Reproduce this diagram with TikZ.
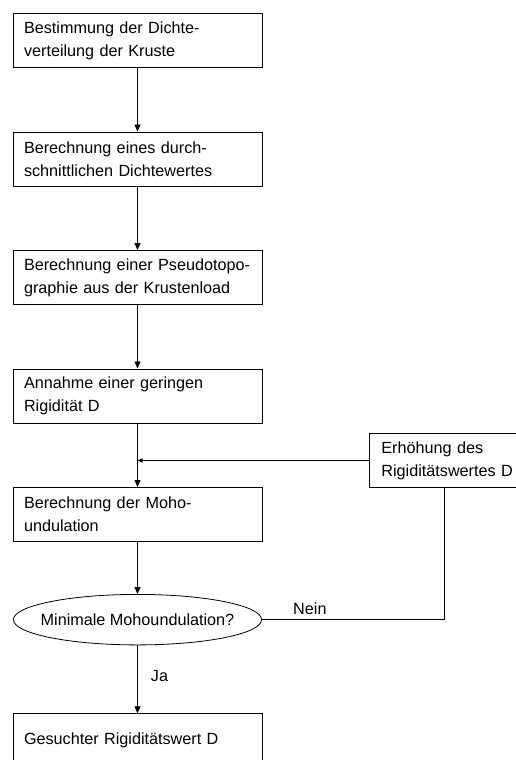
\documentclass[tikz,border=0pt]{standalone}
\usepackage{fontspec}
\setmainfont{Liberation Sans}
\usepackage{tikz}
\usetikzlibrary{arrows.meta, positioning, shapes.geometric, calc}

\begin{document}
\begin{tikzpicture}[
    x=1pt, y=-1pt,
    node distance=63.5pt,
    stepbox/.style={draw, line width=0.8pt, minimum height=54.2pt, text width=227pt, inner xsep=11pt, align=left, font=\fontsize{16.2}{23}\selectfont},
    query/.style={draw, line width=0.8pt, ellipse, inner sep=0pt, minimum width=248.2pt, minimum height=50.5pt, font=\fontsize{16.2}{23}\selectfont},
    lbl/.style={inner sep=0pt, font=\fontsize{16.2}{23}\selectfont},
    flow/.style={line width=0.8pt, -{Triangle[length=7pt, width=6pt]}},
    back/.style={line width=0.8pt, -{Triangle[length=5pt, width=4pt]}}]
  \useasboundingbox (0,0) rectangle (515,760);
  \node[stepbox] (dichte) at (137.5,40.5) {Bestimmung der Dichte-\\verteilung der Kruste};
  \node[stepbox, below=of dichte] (mittel) {Berechnung eines durch-\\schnittlichen Dichtewertes};
  \node[stepbox, below=of mittel] (pseudo) {Berechnung einer Pseudotopo-\\graphie aus der Krustenload};
  \node[stepbox, below=of pseudo] (annahme) {Annahme einer geringen\\Rigidität D};
  \node[stepbox, below=of annahme] (moho) {Berechnung der Moho-\\undulation};
  \node[query, below=52pt of moho] (minimum) {\makebox[0pt]{Minimale Mohoundulation?}};
  \node[stepbox, below=68pt of minimum] (ergebnis) {Gesuchter Rigiditätswert D};
  \node[stepbox, text width=135pt, inner xsep=12pt, anchor=west] (erhoehung) at (369,460.5) {Erhöhung des\\Rigiditätswertes D};
  \path (erhoehung.south west) ++(75,0) coordinate (rbfoot);
  \coordinate (turn) at (minimum.east -| rbfoot);
  % main chain
  \draw[flow] (dichte) -- (mittel);
  \draw[flow] (mittel) -- (pseudo);
  \draw[flow] (pseudo) -- (annahme);
  \draw[flow] (annahme) -- (moho);
  \draw[flow] (moho) -- (minimum);
  \draw[flow] (minimum) -- node[lbl, anchor=west, xshift=13pt, pos=0.45]{Ja} (ergebnis);
  % loop back
  \draw[line width=0.8pt] (minimum.east) -- (turn) -- (rbfoot);
  \node[lbl, anchor=south west] (nein) at ($(minimum.east)+(31,-5)$) {Nein};
  \draw[back] (erhoehung.west) -- (erhoehung.west -| annahme.south);
\end{tikzpicture}
\end{document}
